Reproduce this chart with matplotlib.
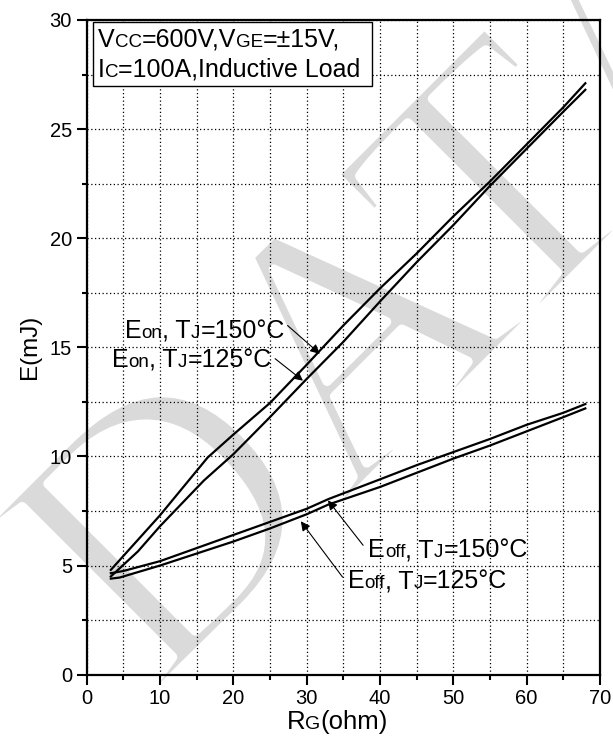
import numpy as np
import matplotlib
matplotlib.use("Agg")
import matplotlib.pyplot as plt
from matplotlib import transforms, patheffects
from matplotlib.patches import Rectangle
from matplotlib.ticker import MultipleLocator

plt.rcParams["font.family"] = ["Liberation Sans", "DejaVu Sans"]

# switching energy vs gate resistance
rg_on_150 = [3.3, 10, 16.5, 20, 25, 30, 35, 40, 45, 50, 55, 60, 65, 68]
eon_150 = [4.8, 7.3, 9.95, 11.0, 12.45, 14.2, 16.0, 17.7, 19.3, 21.0, 22.6, 24.3, 26.0, 27.1]

rg_on_125 = [3.3, 7, 10, 12, 16, 20, 25, 30, 35, 40, 45, 50, 55, 60, 65, 68]
eon_125 = [4.5, 5.65, 6.8, 7.5, 8.9, 10.1, 11.8, 13.55, 15.25, 17.1, 18.9, 20.6, 22.4, 24.1, 25.8, 26.8]

rg_off_150 = [3.3, 5, 10, 15, 20, 25, 30, 33, 40, 45, 50, 55, 60, 65, 68]
eoff_150 = [4.65, 4.75, 5.2, 5.8, 6.4, 7.0, 7.6, 8.05, 8.95, 9.6, 10.2, 10.8, 11.45, 12.0, 12.4]

rg_off_125 = [3.3, 4.5, 7, 10, 15, 20, 25, 30, 33, 40, 45, 50, 55, 60, 65, 68]
eoff_125 = [4.4, 4.45, 4.7, 5.0, 5.55, 6.1, 6.7, 7.35, 7.8, 8.6, 9.25, 9.9, 10.5, 11.15, 11.8, 12.2]

BIG = 18
SMALL = 13.5


def rich_text(ax, x, y, parts, transform):
    """Draw text runs of mixed size sharing one baseline."""
    fig = ax.figure
    renderer = fig.canvas.get_renderer()
    offset = 0.0
    for s, size in parts:
        tr = transforms.offset_copy(transform, fig=fig, x=offset, y=0, units="dots")
        t = ax.text(x, y, s, fontsize=size, transform=tr, ha="left", va="baseline", zorder=5)
        offset += t.get_window_extent(renderer).width


fig = plt.figure(figsize=(6.13, 7.45), dpi=100)
ax = fig.add_axes([0.1413, 0.0944, 0.8375, 0.8788])

# watermark, strokes thinned by a white outline
ax.text(0.25, 0.065, "DATAS", transform=fig.transFigure, fontsize=265,
        family="Liberation Serif", color="#dadada", rotation=45,
        rotation_mode="anchor", ha="left", va="baseline", zorder=0.2, clip_on=False,
        path_effects=[patheffects.Normal(),
                      patheffects.Stroke(linewidth=7, foreground="white")])

lw = 1.6
ax.plot(rg_on_150, eon_150, color="k", lw=lw, zorder=3)
ax.plot(rg_on_125, eon_125, color="k", lw=lw, zorder=3)
ax.plot(rg_off_150, eoff_150, color="k", lw=lw, zorder=3)
ax.plot(rg_off_125, eoff_125, color="k", lw=lw, zorder=3)

ax.set_xlim(0, 70)
ax.set_ylim(0, 30)
ax.xaxis.set_major_locator(MultipleLocator(10))
ax.xaxis.set_minor_locator(MultipleLocator(5))
ax.yaxis.set_major_locator(MultipleLocator(5))
ax.yaxis.set_minor_locator(MultipleLocator(2.5))
ax.grid(True, which="both", color="k", lw=0.9, linestyle=(0, (1, 2)))
ax.tick_params(which="major", direction="out", length=7.5, width=1.5, labelsize=14.5, pad=3)
ax.tick_params(which="minor", direction="out", length=3.8, width=1.5)
for sp in ax.spines.values():
    sp.set_linewidth(1.6)

ax.set_ylabel("E(mJ)", fontsize=17.5, labelpad=6)

fig.canvas.draw()

# x label with small-caps subscript
rich_text(ax, 0.39, -0.083, [("R", 18.5), ("G", 14), ("(ohm)", 18.5)], ax.transAxes)

# condition box
ax.add_patch(Rectangle((0.0125, 0.899), 0.5435, 0.098, transform=ax.transAxes,
                       fill=True, facecolor="white", edgecolor="k", lw=1.0, zorder=4))
rich_text(ax, 0.022, 0.9588,
          [("V", BIG), ("CC", SMALL), ("=600V,V", BIG), ("GE", SMALL), ("=\u00b115V,", BIG)],
          ax.transAxes)
rich_text(ax, 0.022, 0.913,
          [("I", BIG), ("C", SMALL), ("=100A,Inductive Load", BIG)], ax.transAxes)

# curve labels
arrow = dict(arrowstyle="-|>", color="k", lw=0.8, mutation_scale=14, shrinkA=0, shrinkB=0)
ax.annotate("", xy=(31.8, 14.7), xytext=(27.4, 16.0), arrowprops=arrow, zorder=5)
ax.annotate("", xy=(29.5, 13.47), xytext=(25.7, 14.48), arrowprops=arrow, zorder=5)
ax.annotate("", xy=(32.9, 7.99), xytext=(37.7, 5.93), arrowprops=arrow, zorder=5)
ax.annotate("", xy=(29.2, 7.03), xytext=(34.9, 4.47), arrowprops=arrow, zorder=5)

rich_text(ax, 5.2, 15.43, [("E", BIG), ("on", SMALL), (", T", BIG), ("J", SMALL), ("=150\u00b0C", BIG)], ax.transData)
rich_text(ax, 3.45, 14.1, [("E", BIG), ("on", SMALL), (", T", BIG), ("J", SMALL), ("=125\u00b0C", BIG)], ax.transData)
rich_text(ax, 38.4, 5.38, [("E", BIG), ("off", SMALL), (", T", BIG), ("J", SMALL), ("=150\u00b0C", BIG)], ax.transData)
rich_text(ax, 35.6, 3.96, [("E", BIG), ("off", SMALL), (", T", BIG), ("J", SMALL), ("=125\u00b0C", BIG)], ax.transData)

fig.savefig("out.png", dpi=100)
